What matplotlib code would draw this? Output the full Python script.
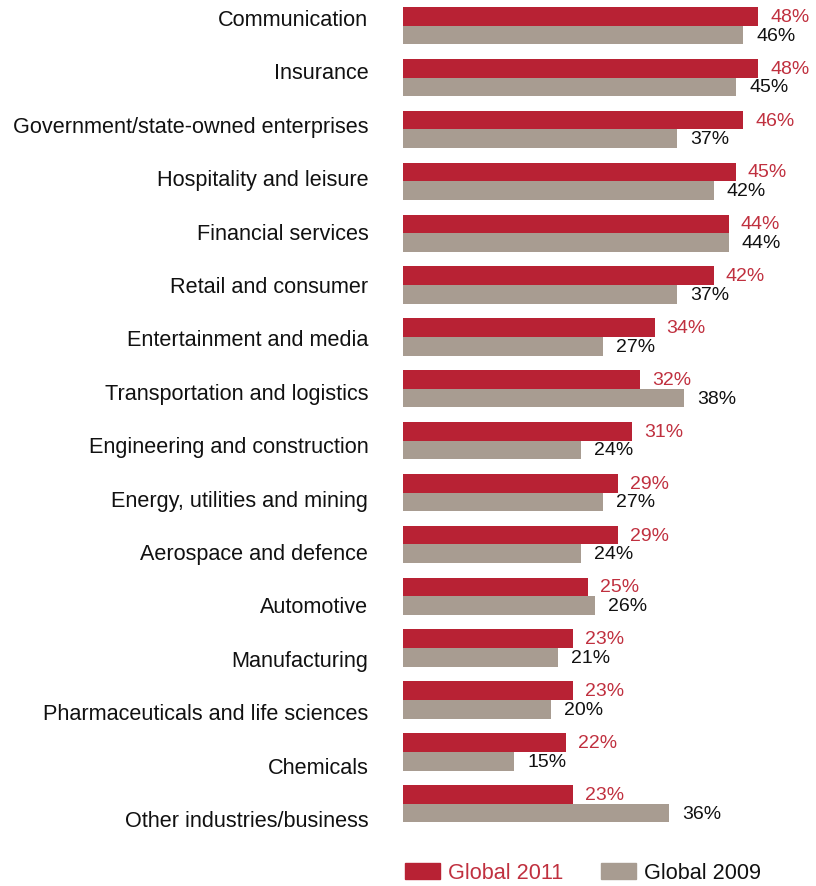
import numpy as np
import matplotlib
matplotlib.use("Agg")
import matplotlib.pyplot as plt
from matplotlib.patches import Patch

plt.rcParams['font.family'] = ['Liberation Sans', 'DejaVu Sans']

industries = [
    "Communication", "Insurance", "Government/state-owned enterprises",
    "Hospitality and leisure", "Financial services", "Retail and consumer",
    "Entertainment and media", "Transportation and logistics",
    "Engineering and construction", "Energy, utilities and mining",
    "Aerospace and defence", "Automotive", "Manufacturing",
    "Pharmaceuticals and life sciences", "Chemicals", "Other industries/business",
]
global_2011 = [48, 48, 46, 45, 44, 42, 34, 32, 31, 29, 29, 25, 23, 23, 22, 23]
global_2009 = [46, 45, 37, 42, 44, 37, 27, 38, 24, 27, 24, 26, 21, 20, 15, 36]

RED = "#B82234"
GREY = "#A89C91"

W, H = 816, 887
fig = plt.figure(figsize=(W / 100, H / 100), dpi=100)
ax = fig.add_axes([403 / W, (H - 840) / H, 407 / W, 840 / H])

y = np.arange(len(industries))
h = 0.36
ax.barh(y - h / 2, global_2011, height=h, color=RED)
ax.barh(y + h / 2, global_2009, height=h, color=GREY)

for yi, v in zip(y, global_2011):
    ax.annotate(f"{v}%", (v, yi - h / 2), xytext=(8.6, 0), textcoords="offset points",
                va="center", ha="left", fontsize=14, color="#C0303F")
for yi, v in zip(y, global_2009):
    ax.annotate(f"{v}%", (v, yi + h / 2), xytext=(9.4, 0), textcoords="offset points",
                va="center", ha="left", fontsize=14, color="#111111")

# category labels sit on a slightly wider pitch than the bar groups
ax.set_yticks(y - 0.168 + 0.0295 * y)
ax.set_yticklabels(industries, fontsize=15.6, color="#111111")
ax.tick_params(axis="y", length=0, pad=25)
ax.set_xticks([])
ax.set_xlim(0, 55)
ax.set_ylim(15.68, -0.515)
for s in ax.spines.values():
    s.set_visible(False)

handles = [Patch(color=RED), Patch(color=GREY)]
leg = fig.legend(handles, ["Global 2011", "Global 2009"], loc="center left",
                 bbox_to_anchor=(405 / W, 13 / H), ncol=2, frameon=False,
                 fontsize=15.6, handlelength=1.6, handleheight=0.78,
                 handletextpad=0.4, columnspacing=1.72, borderpad=0,
                 borderaxespad=0)
leg.get_texts()[0].set_color("#C0303F")
leg.get_texts()[1].set_color("#111111")

fig.savefig("out.png", dpi=100)
